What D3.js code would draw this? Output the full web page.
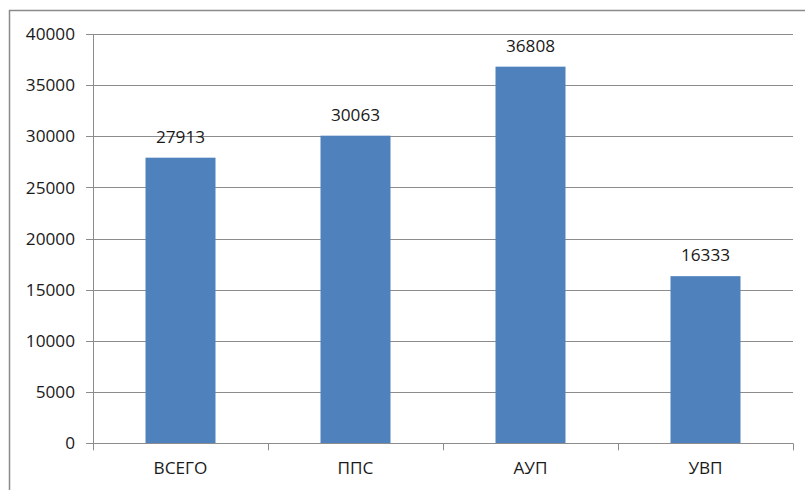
<!DOCTYPE html>
<html>
<head>
<meta charset="utf-8">
<script src="https://cdn.jsdelivr.net/npm/d3@7"></script>
<style>
  html, body { margin: 0; padding: 0; background: #fff; }
  svg { display: block; }
</style>
</head>
<body>
<svg id="chart" width="805" height="490"></svg>
<script>
// Average salary by staff category
const categories = ["ВСЕГО", "ППС", "АУП", "УВП"];
const values = [27913, 30063, 36808, 16333];
const yTicks = [0, 5000, 10000, 15000, 20000, 25000, 30000, 35000, 40000];

const W = 805, H = 490;
const margin = { left: 93, right: 12, top: 34, bottom: 46.7 };
const svg = d3.select("#chart");
const font = "'Open Sans', 'Liberation Sans', sans-serif";
const fontSize = 17.2;
const gridColor = "#8c8c8c";

// outer chart frame
svg.append("rect")
  .attr("x", 9.5).attr("y", 10.5)
  .attr("width", W + 20).attr("height", H + 20)
  .attr("fill", "none").attr("stroke", "#8a8a8a").attr("stroke-width", 1.5);

const x = d3.scaleBand()
  .domain(categories)
  .range([margin.left, W - margin.right])
  .paddingInner(0.6).paddingOuter(0.3);

const y = d3.scaleLinear()
  .domain([0, 40000])
  .range([H - margin.bottom, margin.top]);

// horizontal gridlines
svg.append("g")
  .selectAll("line")
  .data(yTicks)
  .join("line")
  .attr("x1", margin.left - 7).attr("x2", W - margin.right)
  .attr("y1", d => Math.round(y(d)) + 0.5).attr("y2", d => Math.round(y(d)) + 0.5)
  .attr("stroke", gridColor).attr("stroke-width", 1);

// y axis labels
const yAxis = d3.axisLeft(y).tickValues(yTicks).tickSize(0).tickPadding(18)
  .tickFormat(d3.format("d"));
const gy = svg.append("g")
  .attr("transform", `translate(${margin.left},0)`)
  .call(yAxis);
gy.select(".domain").remove();
gy.selectAll("text")
  .attr("font-family", font).attr("font-size", fontSize).attr("fill", "#1a1a1a");

// y axis line
svg.append("line")
  .attr("x1", margin.left + 0.5).attr("x2", margin.left + 0.5)
  .attr("y1", y(40000)).attr("y2", y(0))
  .attr("stroke", gridColor);

// bars
svg.append("g")
  .selectAll("rect")
  .data(values)
  .join("rect")
  .attr("x", (d, i) => x(categories[i]))
  .attr("width", x.bandwidth())
  .attr("y", d => y(d))
  .attr("height", d => y(0) - y(d))
  .attr("fill", "#4f81bd");

// value labels
svg.append("g")
  .selectAll("text")
  .data(values)
  .join("text")
  .attr("x", (d, i) => x(categories[i]) + x.bandwidth() / 2)
  .attr("y", d => y(d) - 15)
  .attr("text-anchor", "middle")
  .attr("font-family", font).attr("font-size", fontSize).attr("fill", "#1a1a1a")
  .text(d => d);

// category axis with boundary ticks
const x0 = margin.left, x1 = W - margin.right;
const bounds = d3.range(categories.length + 1).map(i => x0 + i * (x1 - x0) / categories.length);
svg.append("line")
  .attr("x1", x0).attr("x2", x1)
  .attr("y1", Math.round(y(0)) + 0.5).attr("y2", Math.round(y(0)) + 0.5)
  .attr("stroke", gridColor);
svg.append("g")
  .selectAll("line")
  .data(bounds)
  .join("line")
  .attr("x1", d => Math.round(d) + 0.5).attr("x2", d => Math.round(d) + 0.5)
  .attr("y1", y(0)).attr("y2", y(0) + 7)
  .attr("stroke", gridColor);

const xAxis = d3.axisBottom(x).tickSize(0).tickPadding(18);
const gx = svg.append("g")
  .attr("transform", `translate(0,${y(0)})`)
  .call(xAxis);
gx.select(".domain").remove();
gx.selectAll("text")
  .attr("font-family", font).attr("font-size", fontSize).attr("fill", "#1a1a1a");
</script>
</body>
</html>
